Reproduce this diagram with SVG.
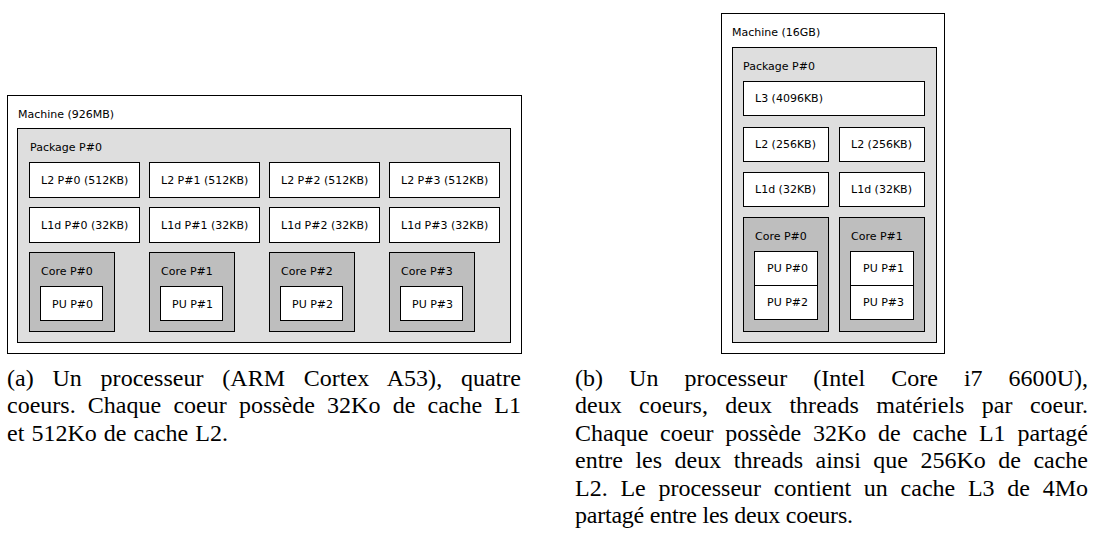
<svg xmlns="http://www.w3.org/2000/svg" width="1096" height="540" viewBox="0 0 1096 540">
<style>
.box{stroke:#000;stroke-width:1}
.machine{fill:#ffffff}
.pkg{fill:#dedede}
.cache{fill:#ffffff}
.core{fill:#bebebe}
.pu{fill:#ffffff}
.t{font-family:"DejaVu Sans",sans-serif;font-size:11px;fill:#000}
.cap{font-family:"Liberation Serif","Times New Roman",serif;font-size:24px;fill:#000}
</style>
<rect x="0" y="0" width="1096" height="540" fill="#ffffff"/>

<!-- Left: ARM Cortex A53 -->
<g id="a-machine"><rect class="box machine" x="7.5" y="95.5" width="514" height="258"/><text class="t" x="18" y="118">Machine (926MB)</text></g>
<g id="a-package"><rect class="box pkg" x="17.5" y="128.5" width="493" height="214"/><text class="t" x="30" y="151">Package P#0</text></g>
<g id="a-l2-0"><rect class="box cache" x="29.5" y="162.5" width="110" height="35"/><text class="t" x="41" y="184">L2 P#0 (512KB)</text></g>
<g id="a-l2-1"><rect class="box cache" x="149.5" y="162.5" width="110" height="35"/><text class="t" x="161" y="184">L2 P#1 (512KB)</text></g>
<g id="a-l2-2"><rect class="box cache" x="269.5" y="162.5" width="110" height="35"/><text class="t" x="281" y="184">L2 P#2 (512KB)</text></g>
<g id="a-l2-3"><rect class="box cache" x="389.5" y="162.5" width="110" height="35"/><text class="t" x="401" y="184">L2 P#3 (512KB)</text></g>
<g id="a-l1-0"><rect class="box cache" x="29.5" y="207.5" width="110" height="35"/><text class="t" x="41" y="229">L1d P#0 (32KB)</text></g>
<g id="a-l1-1"><rect class="box cache" x="149.5" y="207.5" width="110" height="35"/><text class="t" x="161" y="229">L1d P#1 (32KB)</text></g>
<g id="a-l1-2"><rect class="box cache" x="269.5" y="207.5" width="110" height="35"/><text class="t" x="281" y="229">L1d P#2 (32KB)</text></g>
<g id="a-l1-3"><rect class="box cache" x="389.5" y="207.5" width="110" height="35"/><text class="t" x="401" y="229">L1d P#3 (32KB)</text></g>
<g id="a-core-0"><rect class="box core" x="29.5" y="252.5" width="85" height="79"/><text class="t" x="41" y="275">Core P#0</text></g>
<g id="a-core-1"><rect class="box core" x="149.5" y="252.5" width="85" height="79"/><text class="t" x="161" y="275">Core P#1</text></g>
<g id="a-core-2"><rect class="box core" x="269.5" y="252.5" width="85" height="79"/><text class="t" x="281" y="275">Core P#2</text></g>
<g id="a-core-3"><rect class="box core" x="389.5" y="252.5" width="85" height="79"/><text class="t" x="401" y="275">Core P#3</text></g>
<g id="a-pu-0"><rect class="box pu" x="40.5" y="286.5" width="62" height="34"/><text class="t" x="52" y="308">PU P#0</text></g>
<g id="a-pu-1"><rect class="box pu" x="160.5" y="286.5" width="62" height="34"/><text class="t" x="172" y="308">PU P#1</text></g>
<g id="a-pu-2"><rect class="box pu" x="280.5" y="286.5" width="62" height="34"/><text class="t" x="292" y="308">PU P#2</text></g>
<g id="a-pu-3"><rect class="box pu" x="400.5" y="286.5" width="62" height="34"/><text class="t" x="412" y="308">PU P#3</text></g>

<!-- Right: Intel Core i7 6600U -->
<g id="b-machine"><rect class="box machine" x="721.5" y="13.5" width="223" height="340"/><text class="t" x="732" y="36">Machine (16GB)</text></g>
<g id="b-package"><rect class="box pkg" x="732.5" y="47.5" width="204" height="295"/><text class="t" x="743" y="70">Package P#0</text></g>
<g id="b-l3"><rect class="box cache" x="743.5" y="81.5" width="181" height="34"/><text class="t" x="755" y="102">L3 (4096KB)</text></g>
<g id="b-l2-0"><rect class="box cache" x="743.5" y="127.5" width="85" height="34"/><text class="t" x="755" y="148">L2 (256KB)</text></g>
<g id="b-l2-1"><rect class="box cache" x="839.5" y="127.5" width="85" height="34"/><text class="t" x="851" y="148">L2 (256KB)</text></g>
<g id="b-l1-0"><rect class="box cache" x="743.5" y="172.5" width="85" height="34"/><text class="t" x="755" y="193">L1d (32KB)</text></g>
<g id="b-l1-1"><rect class="box cache" x="839.5" y="172.5" width="85" height="34"/><text class="t" x="851" y="193">L1d (32KB)</text></g>
<g id="b-core-0"><rect class="box core" x="743.5" y="217.5" width="85" height="114"/><text class="t" x="755" y="240">Core P#0</text></g>
<g id="b-core-1"><rect class="box core" x="839.5" y="217.5" width="85" height="114"/><text class="t" x="851" y="240">Core P#1</text></g>
<g id="b-pu-0"><rect class="box pu" x="754.5" y="251.5" width="63" height="34"/><text class="t" x="767" y="272">PU P#0</text></g>
<g id="b-pu-2"><rect class="box pu" x="754.5" y="285.5" width="63" height="34"/><text class="t" x="767" y="306">PU P#2</text></g>
<g id="b-pu-1"><rect class="box pu" x="850.5" y="251.5" width="63" height="34"/><text class="t" x="863" y="272">PU P#1</text></g>
<g id="b-pu-3"><rect class="box pu" x="850.5" y="285.5" width="63" height="34"/><text class="t" x="863" y="306">PU P#3</text></g>

<!-- Captions -->
<g id="caption-a">
<text class="cap" x="7" y="386" word-spacing="12.7" textLength="514" lengthAdjust="spacing">(a) Un processeur (ARM Cortex A53), quatre</text>
<text class="cap" x="7" y="413.4" word-spacing="6.2" textLength="514" lengthAdjust="spacing">coeurs. Chaque coeur possède 32Ko de cache L1</text>
<text class="cap" x="7" y="440.8" word-spacing="1" textLength="221" lengthAdjust="spacing">et 512Ko de cache L2.</text>
</g>
<g id="caption-b">
<text class="cap" x="575" y="386" word-spacing="20" textLength="513" lengthAdjust="spacing">(b) Un processeur (Intel Core i7 6600U),</text>
<text class="cap" x="575" y="413.4" word-spacing="11.3" textLength="513" lengthAdjust="spacing">deux coeurs, deux threads matériels par coeur.</text>
<text class="cap" x="575" y="440.8" word-spacing="5.8" textLength="513" lengthAdjust="spacing">Chaque coeur possède 32Ko de cache L1 partagé</text>
<text class="cap" x="575" y="468.2" word-spacing="6.5" textLength="513" lengthAdjust="spacing">entre les deux threads ainsi que 256Ko de cache</text>
<text class="cap" x="575" y="495.6" word-spacing="6.7" textLength="513" lengthAdjust="spacing">L2. Le processeur contient un cache L3 de 4Mo</text>
<text class="cap" x="575" y="523" textLength="278" lengthAdjust="spacing">partagé entre les deux coeurs.</text>
</g>
</svg>
